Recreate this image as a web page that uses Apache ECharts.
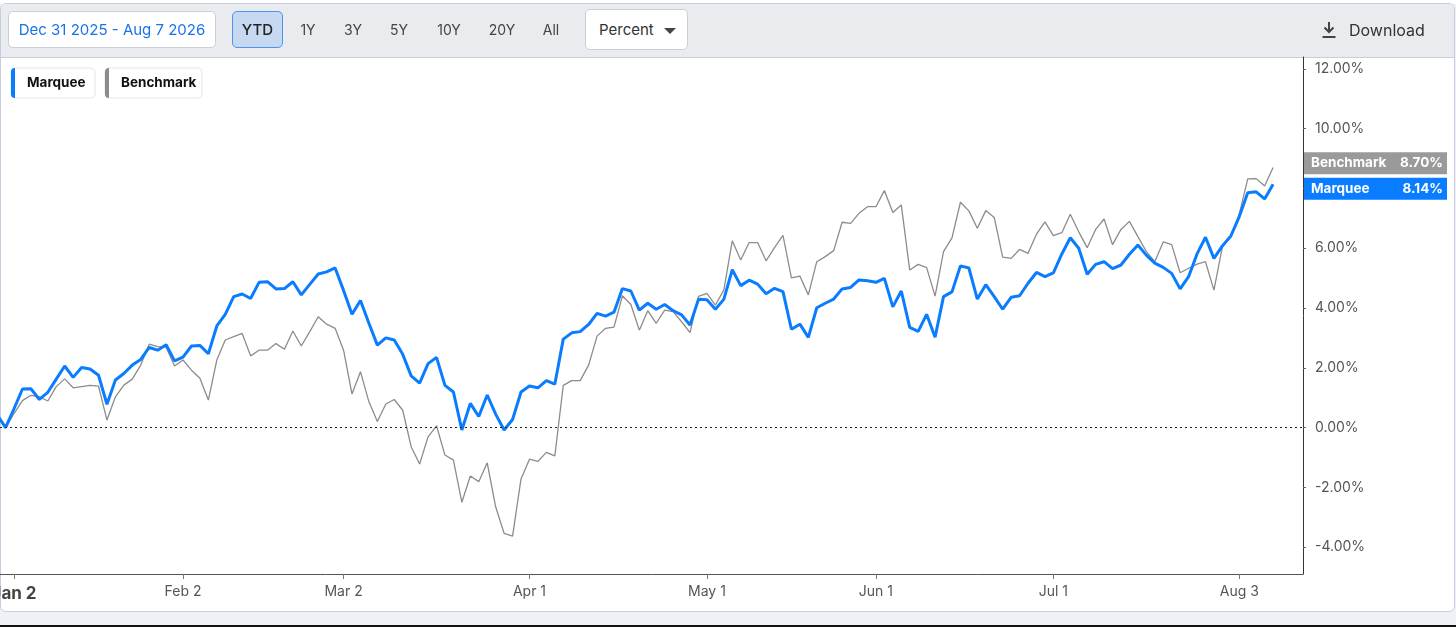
<!DOCTYPE html>
<html>
<head>
<meta charset="utf-8">
<script src="https://cdn.jsdelivr.net/npm/echarts@6/dist/echarts.min.js"></script>
<style>
    html, body { margin: 0; padding: 0; width: 1456px; height: 627px; overflow: hidden; background: #eff1f4; font-family: Inter, "Noto Sans", sans-serif; }
    #topgap { position: absolute; left: 0; top: 0; width: 1456px; height: 4px; background: #fff; }
    #box { position: absolute; left: 0; top: 3px; width: 1453px; height: 607px; border: 1px solid #c5cee0; border-radius: 6px; background: #fff; overflow: hidden; }
    #bar { position: absolute; left: 0; top: 0; width: 100%; height: 53px; background: #e9ebee; border-bottom: 1px solid #c8cfdb; }
    #main { position: absolute; left: 0; top: 0; width: 1456px; height: 627px; z-index: 2; }
    #tools { position: absolute; left: 0; top: 0; width: 1456px; height: 57px; z-index: 3; }
    .btn { position: absolute; box-sizing: border-box; background: #fff; border: 1px solid #c9ced8; border-radius: 5px; display: flex; align-items: center; justify-content: center; font-size: 15px; color: #333; }
    .rng { position: absolute; top: 21px; font-size: 14px; color: #444; transform: translateX(-50%); line-height: 18px; }
    #bottomline { position: absolute; left: 0; top: 625px; width: 1456px; height: 2px; background: #111; }
</style>
</head>
<body>
<div id="topgap"></div>
<div id="box"><div id="bar"></div></div>
<div id="main"></div>
<div id="tools">
    <div class="btn" style="left:8px;top:11px;width:208px;height:37px;color:#1a73e8;">Dec 31 2025 - Aug 7 2026</div>
    <div class="btn" style="left:232px;top:11px;width:51px;height:37px;background:#c6d9f0;border-color:#4d94f0;color:#222;font-weight:500;">YTD</div>
    <div class="rng" style="left:308px;">1Y</div>
    <div class="rng" style="left:353px;">3Y</div>
    <div class="rng" style="left:399px;">5Y</div>
    <div class="rng" style="left:449px;">10Y</div>
    <div class="rng" style="left:502px;">20Y</div>
    <div class="rng" style="left:551px;">All</div>
    <div class="btn" style="left:585px;top:9px;width:103px;height:41px;justify-content:flex-start;padding-left:13px;">Percent
        <svg width="12" height="8" style="position:absolute;left:78px;top:17px;"><path d="M0 1 L12 1 L6 7 Z" fill="#444"/></svg>
    </div>
    <svg width="16" height="18" style="position:absolute;left:1321px;top:21px;">
        <path d="M8 1 L8 11 M3.5 6.5 L8 11 L12.5 6.5" stroke="#444" stroke-width="2" fill="none"/>
        <path d="M1.5 16 L14.5 16" stroke="#444" stroke-width="2"/>
    </svg>
    <div style="position:absolute;left:1349px;top:20px;font-size:16px;color:#333;line-height:20px;">Download</div>
</div>
<div id="bottomline"></div>
<script>
    // 交易日序号: Jan 2 = 0, 数据从 Dec 30 2025 开始
    var firstIdx = -2;
    var seriesNames = ['Marquee', 'Benchmark'];

    var marquee = [
        0.43, 0, 0.63, 1.29, 1.30, 0.94, 1.18, 1.62, 2.06, 1.68, 2.01,
        1.96, 1.75, 0.78, 1.59, 1.81, 2.09, 2.28, 2.68, 2.59, 2.77,
        2.23, 2.36, 2.73, 2.75, 2.47, 3.40, 3.79, 4.38, 4.47, 4.32,
        4.86, 4.88, 4.64, 4.65, 4.88, 4.44, 4.79, 5.14, 5.21, 5.34,
        4.59, 3.79, 4.25, 3.49, 2.76, 3.00, 2.93, 2.45, 1.73, 1.49,
        2.14, 2.35, 1.41, 1.19, -0.08, 0.81, 0.37, 1.09, 0.45, -0.08,
        0.27, 1.19, 1.39, 1.33, 1.57, 1.45, 2.96, 3.17, 3.21, 3.45,
        3.82, 3.73, 3.86, 4.65, 4.57, 3.93, 4.16, 3.96, 4.12, 3.91,
        3.77, 3.43, 4.29, 4.28, 3.96, 4.29, 5.28, 4.75, 4.93, 4.80,
        4.48, 4.66, 4.55, 3.29, 3.46, 3.02, 4.01, 4.16, 4.30, 4.64,
        4.69, 4.94, 4.91, 4.86, 4.99, 4.04, 4.57, 3.35, 3.22, 3.79,
        3.02, 4.38, 4.54, 5.41, 5.34, 4.30, 4.78, 4.38, 3.96, 4.36,
        4.41, 4.83, 5.19, 5.05, 5.18, 5.81, 6.35, 6.00, 5.13, 5.46,
        5.55, 5.32, 5.44, 5.80, 6.11, 5.77, 5.50, 5.36, 5.16, 4.64,
        5.05, 5.81, 6.37, 5.66, 6.08, 6.41, 7.06, 7.86, 7.89, 7.65,
        8.14
    ];

    var benchmark = [
        0.43, 0, 0.47, 0.90, 1.08, 1.03, 0.89, 1.37, 1.63, 1.33, 1.37,
        1.41, 1.39, 0.25, 1.03, 1.42, 1.62, 2.09, 2.79, 2.71, 2.69,
        2.06, 2.26, 1.92, 1.65, 0.92, 2.26, 2.93, 3.04, 3.15, 2.40,
        2.59, 2.59, 2.81, 2.62, 3.23, 2.73, 3.21, 3.71, 3.46, 3.32,
        2.59, 1.12, 1.87, 0.86, 0.20, 0.79, 0.94, 0.58, -0.64, -1.22,
        -0.31, 0.06, -0.92, -1.09, -2.50, -1.62, -1.81, -1.18, -2.65, -3.54,
        -3.63, -1.72, -1.06, -1.13, -0.83, -0.95, 1.41, 1.57, 1.57, 2.09,
        3.06, 3.32, 3.36, 4.41, 4.12, 3.26, 3.91, 3.49, 3.93, 3.88,
        3.54, 3.18, 4.39, 4.49, 4.10, 4.60, 6.25, 5.61, 6.19, 6.19,
        5.58, 6.02, 6.43, 5.01, 5.07, 4.44, 5.55, 5.72, 5.92, 6.87,
        6.83, 7.17, 7.39, 7.39, 7.93, 7.20, 7.45, 5.27, 5.46, 5.35,
        4.40, 5.89, 6.35, 7.54, 7.25, 6.67, 7.26, 7.03, 5.70, 5.66,
        5.96, 5.83, 6.47, 6.88, 6.42, 6.52, 7.14, 6.55, 6.02, 6.63,
        6.98, 6.12, 6.63, 6.90, 6.39, 5.89, 5.55, 6.21, 6.12, 5.18,
        5.33, 5.47, 5.55, 4.60, 6.05, 6.39, 7.14, 8.32, 8.33, 8.08,
        8.70
    ];

    var tickLabels = ['Jan 2', 'Feb 2', 'Mar 2', 'Apr 1', 'May 1', 'Jun 1', 'Jul 1', 'Aug 3'];
    var tickIdx = [0, 20, 39, 61, 82, 102, 123, 145];
    var yTicks = [-4, -2, 0, 2, 4, 6, 8, 10, 12];

    var blue = '#0a7cff', grey = '#8c8c8c';

    function toPairs(arr) {
        var out = [];
        for (var i = 0; i < arr.length; i++) {
            out.push([i + firstIdx, arr[i]]);
        };
        return out;
    };

    var myChart = echarts.init(document.getElementById('main'));

    var option = {
        animation: false,
        grid: { left: 0, right: 153, top: 57, bottom: 53, containLabel: false, outerBoundsMode: 'none' },
        xAxis: {
            type: 'value',
            min: -1.657,
            max: 152.54,
            splitLine: { show: false },
            axisLine: { show: true, onZero: false, lineStyle: { color: '#555', width: 1 } },
            axisTick: { show: true, customValues: tickIdx, length: 5, lineStyle: { color: '#777' } },
            axisLabel: {
                customValues: tickIdx,
                margin: 11,
                color: '#555',
                fontSize: 14,
                fontFamily: 'Inter',
                formatter: function (v) {
                    var k = tickIdx.indexOf(Math.round(v));
                    if (k < 0) return '';
                    return k == 0 ? '{b|' + tickLabels[k] + '}' : tickLabels[k];
                },
                rich: {
                    b: { fontSize: 17, fontWeight: 'bold', color: '#444', fontFamily: 'Inter' }
                }
            }
        },
        yAxis: {
            type: 'value',
            position: 'right',
            min: -4.9,
            max: 12.4,
            splitLine: { show: false },
            axisLine: { show: true, onZero: false, lineStyle: { color: '#333', width: 1 } },
            axisTick: { show: true, customValues: yTicks, length: 3, lineStyle: { color: '#666' } },
            axisLabel: {
                customValues: yTicks,
                margin: 12,
                color: '#555',
                fontSize: 14,
                fontFamily: 'Inter',
                formatter: function (v) { return v.toFixed(2) + '%'; }
            }
        },
        series: [{
            name: seriesNames[1],
            type: 'line',
            data: toPairs(benchmark),
            showSymbol: false,
            clip: true,
            lineStyle: { color: grey, width: 1.3 },
            z: 2,
            markLine: {
                silent: true,
                symbol: 'none',
                label: { show: false },
                lineStyle: { color: '#222', type: [2, 3], width: 1 },
                data: [{ yAxis: 0 }]
            }
        }, {
            name: seriesNames[0],
            type: 'line',
            data: toPairs(marquee),
            showSymbol: false,
            clip: true,
            lineStyle: { color: blue, width: 3 },
            z: 3
        }]
    };
    myChart.setOption(option);

    // 右侧末值标签 + 左上图例
    function legendItem(x, w, name, color) {
        return {
            type: 'group',
            z: 100,
            children: [{
                type: 'rect', shape: { x: x, y: 68, width: w, height: 30, r: 4 },
                style: { fill: '#fff', stroke: '#e3e6ea', lineWidth: 1 }
            }, {
                type: 'rect', shape: { x: x, y: 68, width: 4, height: 30, r: [4, 0, 0, 4] },
                style: { fill: color }
            }, {
                type: 'text', x: x + 16, y: 83,
                style: { text: name, fill: '#111', font: 'bold 13.5px Inter', verticalAlign: 'middle' }
            }]
        };
    };

    function endLabel(cy, name, val, color) {
        return {
            type: 'group',
            z: 100,
            children: [{
                type: 'rect', z: 100, shape: { x: 1304, y: cy - 11, width: 143, height: 22 },
                style: { fill: color }
            }, {
                type: 'text', z: 101, x: 1311, y: cy,
                style: { text: name, fill: '#fff', font: 'bold 13.5px Inter', verticalAlign: 'middle' }
            }, {
                type: 'text', z: 101, x: 1443, y: cy,
                style: { text: val.toFixed(2) + '%', fill: '#fff', font: 'bold 13.5px Inter', verticalAlign: 'middle', align: 'right' }
            }]
        };
    };

    var lastM = marquee[marquee.length - 1], lastB = benchmark[benchmark.length - 1];
    var pm = myChart.convertToPixel({ gridIndex: 0 }, [0, lastM])[1];
    var pb = myChart.convertToPixel({ gridIndex: 0 }, [0, lastB])[1];
    var sep = 25.5;
    if (Math.abs(pm - pb) < sep) {
        var mid = (pm + pb) / 2;
        var up = lastB >= lastM ? -1 : 1;
        pb = mid + up * sep / 2;
        pm = mid - up * sep / 2;
    };

    myChart.setOption({
        graphic: [
            legendItem(11, 84, seriesNames[0], blue),
            legendItem(105, 97, seriesNames[1], grey),
            endLabel(pb, seriesNames[1], lastB, '#9a9a9a'),
            endLabel(pm, seriesNames[0], lastM, blue)
        ]
    });
</script>
</body>
</html>
